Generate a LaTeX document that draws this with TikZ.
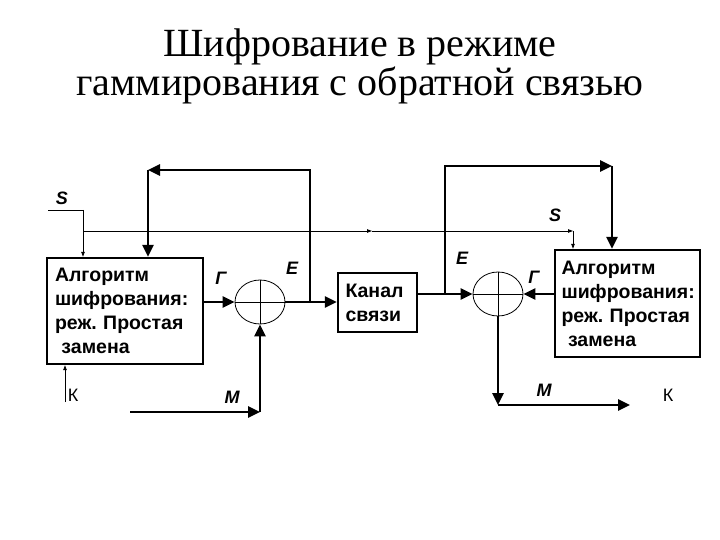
\documentclass[tikz,border=0pt]{standalone}
\usepackage{fontspec}
\setmainfont{Liberation Serif}
\setsansfont{Liberation Sans}
\usetikzlibrary{arrows.meta, shapes.geometric, positioning, calc}

\tikzset{
  blk/.style={draw, line width=2.4pt, align=left, inner sep=0pt, font=\sffamily\bfseries\fontsize{19.5}{24}\selectfont\frenchspacing},
  sum/.style={draw, ellipse, line width=0.8pt, minimum width=50pt, minimum height=44pt, inner sep=0pt},
  sig/.style={line width=2.6pt, -{Triangle[length=12pt, width=11pt]}},
  key/.style={line width=0.8pt, -{Triangle[length=5pt, width=3.5pt]}},
  keyline/.style={line width=0.8pt},
  lbl/.style={font=\sffamily\bfseries\itshape\fontsize{18}{20}\selectfont},
  klbl/.style={font=\sffamily\fontsize{18}{20}\selectfont},
  ttl/.style={font=\fontsize{40}{39}\selectfont, anchor=base}
}

\begin{document}
\begin{tikzpicture}[x=1pt, y=-1pt]
  \useasboundingbox (0,0) rectangle (720,540);

  % title
  \node[ttl] (title1) at (360,57) {Шифрование в режиме};
  \node[ttl] (title2) at (360,96) {гаммирования с обратной связью};

  % blocks
  \node[blk, minimum width=156pt, minimum height=106pt, text width=140pt] (algL) at (125,311)
    {Алгоритм\\шифрования:\\реж. Простая\\\ замена};
  \node[blk, minimum width=79pt, minimum height=59pt, text width=64pt] (chan) at (377.5,302.5)
    {Канал\\связи};
  \node[blk, minimum width=145pt, minimum height=107pt, text width=132pt] (algR) at (627.5,303.5)
    {Алгоритм\\шифрования:\\реж. Простая\\\ замена};
  \node[sum] (sumL) at (260,302) {};
  \node[sum] (sumR) at (498,294) {};
  \draw[keyline] (sumL.west) -- (sumL.east) (sumL.north) -- (sumL.south);
  \draw[keyline] (sumR.west) -- (sumR.east) (sumR.north) -- (sumR.south);

  % sender side
  \draw[sig] (algL.east |- sumL) -- (sumL.west);
  \draw[sig] (sumL.east) -- (chan.west |- sumL);
  \coordinate (fbL) at (310,302);
  \coordinate (fbLt) at (310,170);
  \coordinate (fbLc) at (148,170);
  \draw[sig] (fbL) -- (fbLt) -- (fbLc);
  \draw[sig] (fbLc) -- (fbLc |- algL.north);
  \coordinate (mIn) at (130,412);
  \coordinate (mC) at (260,412);
  \draw[sig] (mIn) -- (mC);
  \draw[sig] (mC) -- (sumL.south);

  % receiver side
  \coordinate (chOut) at (chan.east |- sumR);
  \draw[sig] (chOut) -- (sumR.west);
  \draw[sig] (algR.west |- sumR) -- (sumR.east);
  \coordinate (fbR) at (445,294);
  \coordinate (fbRt) at (445,166);
  \coordinate (fbRc) at (612,166);
  \draw[sig] (fbR) -- (fbRt) -- (fbRc);
  \draw[sig] (fbRc) -- (fbRc |- algR.north);
  \coordinate (mOut) at (498,405);
  \coordinate (mEnd) at (630,405);
  \draw[sig] (sumR.south) -- (mOut);
  \draw[sig] (mOut) -- (mEnd);

  % key lines
  \coordinate (sIn) at (48,210);
  \coordinate (sL) at (83,210);
  \coordinate (sBus) at (83,231);
  \coordinate (sMid) at (372,231);
  \coordinate (sR) at (573,231);
  \draw[keyline] (sIn) -- (sL);
  \draw[key] (sL) -- (sL |- algL.north);
  \draw[key] (sBus) -- (sMid);
  \draw[key] (sMid) -- (sR);
  \draw[key] (sR) -- (sR |- algR.north);
  \coordinate (kIn) at (65,402);
  \draw[key] (kIn) -- (kIn |- algL.south);

  % labels
  \node[lbl] (sLbl) at (62,198) {S};
  \node[lbl] (sLblR) at (555,215) {S};
  \node[lbl] (eL) at (292,268) {E};
  \node[lbl] (eR) at (462,258) {E};
  \node[lbl] (gL) at (221,278) {Г};
  \node[lbl] (gR) at (534,277) {Г};
  \node[lbl] (mL) at (232,397) {M};
  \node[lbl] (mR) at (544,390) {M};
  \node[klbl] (kL) at (73,395) {К};
  \node[klbl] (kR) at (668,395) {К};
\end{tikzpicture}
\end{document}
